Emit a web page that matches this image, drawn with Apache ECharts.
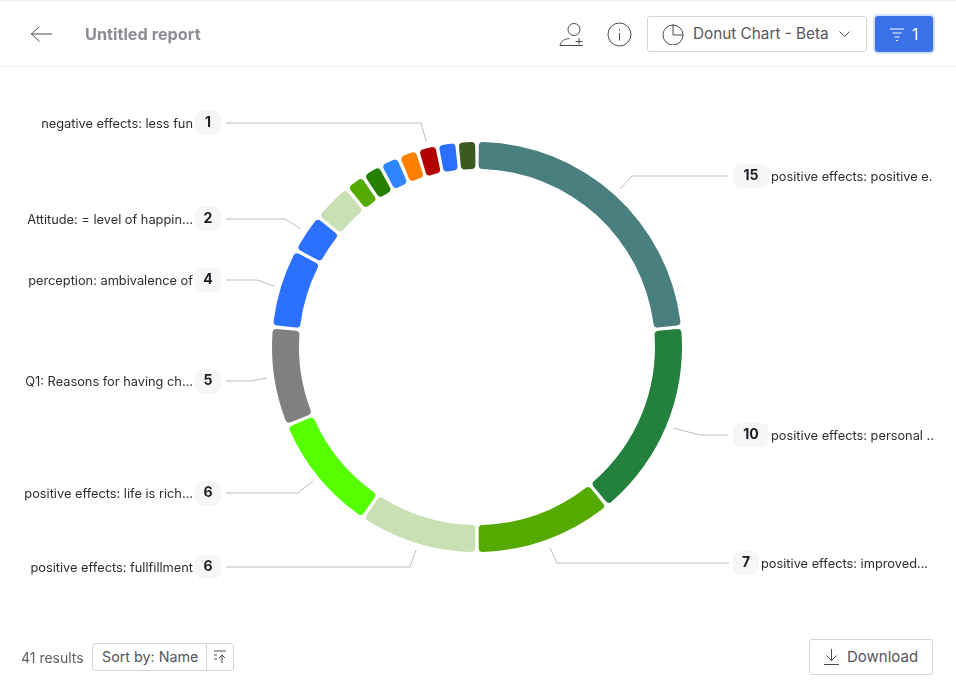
<!DOCTYPE html>
<html>
<head>
<meta charset="utf-8">
<title>Untitled report</title>
<script src="https://cdn.jsdelivr.net/npm/echarts@6/dist/echarts.min.js"></script>
<style>
  html, body { margin: 0; padding: 0; background: #fff; }
  body { width: 956px; height: 697px; position: relative; overflow: hidden; font-family: Inter, Roboto, sans-serif; color: #55565c; }
  #chart { position: absolute; left: 0; top: 0; width: 956px; height: 697px; }
  .abs { position: absolute; box-sizing: border-box; white-space: nowrap; }
  .btn { background: #fff; border: 1px solid #d2d4da; border-radius: 3px; }
  svg { position: absolute; fill: none; stroke: #4a4b50; stroke-width: 1; }
</style>
</head>
<body>
<div id="chart"></div>

<!-- header -->
<div class="abs" style="left:0;top:0;width:956px;height:2px;background:#f3f3f4"></div>
<div class="abs" style="left:0;top:66px;width:956px;height:1px;background:#eeeef0"></div>
<svg style="left:30px;top:25px" width="24" height="18"><path d="M1 9H22M9.5 1.5L1.5 9L9.5 16.5"/></svg>
<div class="abs" style="left:85px;top:24px;font-size:16.3px;line-height:20px;font-weight:700;color:#8b8d93">Untitled report</div>
<svg style="left:559px;top:22px" width="26" height="26"><circle cx="15" cy="7.5" r="6"/><path d="M1 23.5H24M1 23.5C2 18.5 6 17 10.5 16.5M20 16V22.5M16.5 19.5H23.5"/></svg>
<svg style="left:607px;top:22px" width="25" height="25"><circle cx="12.5" cy="12.5" r="11.5"/><path d="M12.5 11V18.5M12.5 7V8.5"/></svg>
<div class="abs btn" style="left:647px;top:16px;width:220px;height:36px"></div>
<svg style="left:662px;top:23px" width="22" height="22"><circle cx="11" cy="12" r="10"/><path d="M11 1.5V12H21"/></svg>
<div class="abs" style="left:693px;top:24px;font-size:15.3px;line-height:19px;color:#55565c">Donut Chart - Beta</div>
<svg style="left:838px;top:30px" width="13" height="9"><path d="M1.5 1.5L6.5 6.5L11.5 1.5"/></svg>
<div class="abs" style="left:875px;top:16px;width:58px;height:36px;background:#3b71e8;border-radius:3px;box-shadow:0 0 0 2px #d3e0fa"></div>
<svg style="left:889px;top:27px;stroke:#fff" width="16" height="15"><path d="M1 2H15M3.5 6H12.5M5.5 10H10.5M7 13.5H9"/></svg>
<div class="abs" style="left:912px;top:24px;font-size:16px;line-height:20px;color:#fff">1</div>

<!-- footer -->
<div class="abs" style="left:21px;top:649px;font-size:14px;line-height:18px;color:#5f6066">41 results</div>
<div class="abs btn" style="left:92px;top:643px;width:142px;height:28px"></div>
<div class="abs" style="left:206px;top:643px;width:1px;height:28px;background:#d2d4da"></div>
<div class="abs" style="left:102px;top:648px;font-size:14.3px;line-height:18px">Sort by: Name</div>
<svg style="left:213px;top:649px" width="16" height="16"><path d="M1 2H13M1 6H4M1 10H4M9 14V6M6 9L9 6L12 9"/></svg>
<div class="abs btn" style="left:809px;top:639px;width:124px;height:36px"></div>
<svg style="left:823px;top:648px" width="17" height="18"><path d="M8.5 1V12M3.5 7.5L8.5 12.5L13.5 7.5M1 16.5H16"/></svg>
<div class="abs" style="left:847px;top:647px;font-size:15px;line-height:19px">Download</div>

<script>
// clockwise from 12 o'clock
var categories = [
    'positive effects: positive e.',
    'positive effects: personal ..',
    'positive effects: improved...',
    'positive effects: fullfillment',
    'positive effects: life is rich...',
    'Q1: Reasons for having ch...',
    'perception: ambivalence of',
    'Attitude: = level of happin...',
    '', '', '', '', '', 'negative effects: less fun', '', ''
];
var values = [15, 10, 7, 6, 6, 5, 4, 2, 2, 1, 1, 1, 1, 1, 1, 1];
var colors = ['#4a7f7f', '#23803d', '#55aa00', '#c8e0b4', '#55ff00', '#808080', '#2b70ff', '#2b70ff',
    '#c8e0b4', '#55aa00', '#268000', '#2f85ff', '#ff8000', '#b30000', '#2b70ff', '#3a5a22'];

// where the callouts sit, keyed by slice index
var callouts = {
    0:  { side: 'right', y: 176, line: [[620, 189], [632, 176], [728, 176]] },
    1:  { side: 'right', y: 435, line: [[673, 428], [700, 435], [728, 435]] },
    2:  { side: 'right', y: 563, line: [[550, 548], [557, 563], [729, 563]] },
    3:  { side: 'left',  y: 567, line: [[416, 550], [410, 567], [226, 567]] },
    4:  { side: 'left',  y: 493, line: [[313, 481], [298, 493], [226, 493]] },
    5:  { side: 'left',  y: 381, line: [[267, 378], [250, 381], [226, 381]] },
    6:  { side: 'left',  y: 280, line: [[274, 286], [257, 280], [226, 280]] },
    7:  { side: 'left',  y: 219, line: [[301, 229], [285, 219], [226, 219]] },
    13: { side: 'left',  y: 123, line: [[426, 141], [421, 123], [226, 123]] }
};

var myChart = echarts.init(document.getElementById('chart'));

var pieData = values.map(function (val, i) {
    var item = { name: categories[i] || ('slice ' + i), value: val, itemStyle: { color: colors[i] } };
    if (!callouts[i]) {
        item.label = { show: false };
        item.labelLine = { show: false };
    }
    return item;
});

var option = {
    animation: false,
    series: [{
        type: 'pie',
        center: [477, 347],
        radius: [178, 205],
        startAngle: 90,
        padAngle: 1,
        clockwise: true,
        itemStyle: { borderRadius: 4 },
        emphasis: { disabled: true },
        data: pieData,
        label: {
            show: true,
            padding: [0, 5],
            formatter: function (p) {
                var c = callouts[p.dataIndex];
                if (!c) return '';
                var badge = p.value >= 10 ? 'w' : 'v';
                if (c.side === 'left') return '{n|' + categories[p.dataIndex] + '}{g|}{' + badge + '|' + p.value + '}';
                return '{' + badge + '|' + p.value + '}{g|}{n|' + categories[p.dataIndex] + '}';
            },
            rich: {
                n: { fontFamily: 'Inter', fontSize: 12.8, padding: [2, 0, 0, 0], color: '#2c2d30' },
                g: { width: 2 },
                v: { width: 26, height: 24, lineHeight: 24, align: 'center', fontFamily: 'Inter', fontSize: 14, fontWeight: 700, color: '#1c1d20', backgroundColor: '#f5f6f8', borderRadius: 8 },
                w: { width: 36, height: 24, lineHeight: 24, align: 'center', fontFamily: 'Inter', fontSize: 14, fontWeight: 700, color: '#1c1d20', backgroundColor: '#f5f6f8', borderRadius: 8 }
            }
        },
        labelLine: { show: true, lineStyle: { color: '#bdbdc0', width: 1 } },
        labelLayout: function (p) {
            var c = callouts[p.dataIndex];
            if (!c) return {};
            return {
                // padded by 5 on both sides, so the anchor is 5 further out than the badge edge
                x: c.side === 'left' ? 226 : 728,
                y: c.y,
                align: c.side === 'left' ? 'right' : 'left',
                verticalAlign: 'middle',
                labelLinePoints: c.line
            };
        }
    }]
};

myChart.setOption(option);
</script>
</body>
</html>
